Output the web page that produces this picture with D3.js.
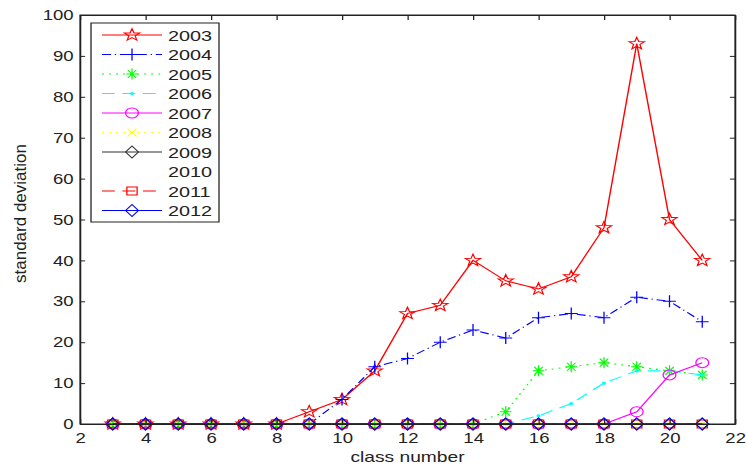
<!DOCTYPE html>
<html lang="en">
<head>
    <meta charset="UTF-8">
    <script type="text/javascript" src="https://cdn.jsdelivr.net/npm/d3@7/dist/d3.min.js"></script>
    <title>standard deviation</title>
    <style>
        body { margin: 0; background: #fff; }
        text { font-family: Arial, "Liberation Sans", sans-serif; fill: #222; }
    </style>
</head>
<body>
</body>
<script>
    // data
    let classes = [3, 4, 5, 6, 7, 8, 9, 10, 11, 12, 13, 14, 15, 16, 17, 18, 19, 20, 21];
    let years = ["2003", "2004", "2005", "2006", "2007", "2008", "2009", "2010", "2011", "2012"];
    let v2003 = [0, 0, 0, 0, 0, 0, 3, 6, 13, 27, 29, 40, 35, 33, 36, 48, 93, 50, 40];
    let v2004 = [0, 0, 0, 0, 0, 0, 0, 6, 14, 16, 20, 23, 21, 26, 27, 26, 31, 30, 25];
    let v2005 = [0, 0, 0, 0, 0, 0, 0, 0, 0, 0, 0, 0, 3, 13, 14, 15, 14, 13, 12];
    let v2006 = [0, 0, 0, 0, 0, 0, 0, 0, 0, 0, 0, 0, 0, 2, 5, 10, 13, 13, 12];
    let v2007 = [0, 0, 0, 0, 0, 0, 0, 0, 0, 0, 0, 0, 0, 0, 0, 0, 3, 12, 15];
    let v2008 = [0, 0, 0, 0, 0, 0, 0, 0, 0, 0, 0, 0, 0, 0, 0, 0, 0, 0, 0];
    let v2009 = [0, 0, 0, 0, 0, 0, 0, 0, 0, 0, 0, 0, 0, 0, 0, 0, 0, 0, 0];
    let v2010 = [];
    let v2011 = [0, 0, 0, 0, 0, 0, 0, 0, 0, 0, 0, 0, 0, 0, 0, 0, 0, 0, 0];
    let v2012 = [0, 0, 0, 0, 0, 0, 0, 0, 0, 0, 0, 0, 0, 0, 0, 0, 0, 0, 0];
    let xTicks = [2, 4, 6, 8, 10, 12, 14, 16, 18, 20, 22];
    let yTicks = [0, 10, 20, 30, 40, 50, 60, 70, 80, 90, 100];

    let values = [v2003, v2004, v2005, v2006, v2007, v2008, v2009, v2010, v2011, v2012];

    // styles per series
    let styles = [
        {color: "#ff0000", dash: null, marker: "star"},
        {color: "#0000ff", dash: "7,3,1,3", marker: "plus"},
        {color: "#00ff00", dash: "1.5,4", marker: "asterisk"},
        {color: "#00ffff", dash: "10,6", marker: "point"},
        {color: "#ff00ff", dash: null, marker: "circle"},
        {color: "#ffff00", dash: "1.5,4", marker: "x"},
        {color: "#333333", dash: null, marker: "diamond"},
        {color: "none", dash: null, marker: null},
        {color: "#ff0000", dash: "10,6", marker: "square"},
        {color: "#0000ff", dash: null, marker: "diamond"}
    ];

    // the picture is stretched horizontally, draw in a narrower space and scale
    let sx = 1.28;
    let width = 746, height = 466;
    let plotLeft = 80 / sx, plotRight = 735 / sx, plotTop = 15, plotBottom = 424;

    let svg = d3.select("body")
        .append("svg")
        .attr("width", width)
        .attr("height", height);

    let g = svg.append("g")
        .attr("transform", `scale(${sx},1)`);

    let xScale = d3.scaleLinear().domain([2, 22]).range([plotLeft, plotRight]);
    let yScale = d3.scaleLinear().domain([0, 100]).range([plotBottom, plotTop]);

    // markers
    function markerPath(type) {
        let p = d3.path();
        if (type === "star") {
            for (let i = 0; i < 10; i++) {
                let r = i % 2 === 0 ? 6.3 : 2.6;
                let a = -Math.PI / 2 + i * Math.PI / 5;
                if (i === 0) p.moveTo(r * Math.cos(a), r * Math.sin(a));
                else p.lineTo(r * Math.cos(a), r * Math.sin(a));
            }
            p.closePath();
        } else if (type === "plus") {
            p.moveTo(-5, 0); p.lineTo(5, 0);
            p.moveTo(0, -6); p.lineTo(0, 6);
        } else if (type === "asterisk") {
            p.moveTo(-4.5, 0); p.lineTo(4.5, 0);
            p.moveTo(0, -5.5); p.lineTo(0, 5.5);
            p.moveTo(-3.3, -4); p.lineTo(3.3, 4);
            p.moveTo(-3.3, 4); p.lineTo(3.3, -4);
        } else if (type === "circle") {
            p.arc(0, 0, 5, 0, 2 * Math.PI);
        } else if (type === "x") {
            p.moveTo(-3.5, -4); p.lineTo(3.5, 4);
            p.moveTo(-3.5, 4); p.lineTo(3.5, -4);
        } else if (type === "diamond") {
            p.moveTo(0, -6); p.lineTo(5, 0); p.lineTo(0, 6); p.lineTo(-5, 0);
            p.closePath();
        } else if (type === "square") {
            p.rect(-4, -4, 8, 8);
        }
        return p.toString();
    }

    function drawMarker(sel, st) {
        if (st.marker === "point") {
            sel.append("circle").attr("r", 1.6).attr("fill", st.color);
        } else {
            sel.append("path")
                .attr("d", markerPath(st.marker))
                .attr("fill", "none")
                .attr("stroke", st.color)
                .attr("stroke-width", 1);
        }
    }

    let line = d3.line()
        .x(d => xScale(d[0]))
        .y(d => yScale(d[1]));

    // series
    values.forEach((vals, k) => {
        let st = styles[k];
        if (!vals.length) return;
        let pts = vals.map((v, i) => [classes[i], v]);
        g.append("path")
            .datum(pts)
            .attr("d", line)
            .attr("fill", "none")
            .attr("stroke", st.color)
            .attr("stroke-width", 1.1)
            .attr("stroke-dasharray", st.dash);
        g.selectAll(".m" + k)
            .data(pts)
            .enter()
            .append("g")
            .attr("class", "m" + k)
            .attr("transform", d => `translate(${xScale(d[0])},${yScale(d[1])})`)
            .each(function () { drawMarker(d3.select(this), st); });
    });

    // axes
    let xAxis = d3.axisBottom(xScale).tickValues(xTicks).tickSizeInner(-5).tickSizeOuter(0).tickPadding(9);
    let xAxisTop = d3.axisTop(xScale).tickValues(xTicks).tickSizeInner(-5).tickSizeOuter(0).tickFormat("");
    let yAxis = d3.axisLeft(yScale).tickValues(yTicks).tickSizeInner(-4).tickSizeOuter(0).tickPadding(5);
    let yAxisRight = d3.axisRight(yScale).tickValues(yTicks).tickSizeInner(-4).tickSizeOuter(0).tickFormat("");

    g.append("g").attr("transform", `translate(0,${plotBottom})`).call(xAxis);
    g.append("g").attr("transform", `translate(0,${plotTop})`).call(xAxisTop);
    g.append("g").attr("transform", `translate(${plotLeft},0)`).call(yAxis);
    g.append("g").attr("transform", `translate(${plotRight},0)`).call(yAxisRight);

    g.selectAll(".domain").attr("stroke", "#222");
    g.selectAll(".tick line").attr("stroke", "#222");
    g.selectAll(".tick text")
        .attr("font-size", 14.5)
        .attr("font-family", "Arial, 'Liberation Sans', sans-serif")
        .attr("fill", "#222");

    // frame
    g.append("rect")
        .attr("x", plotLeft).attr("y", plotTop)
        .attr("width", plotRight - plotLeft).attr("height", plotBottom - plotTop)
        .attr("fill", "none").attr("stroke", "#222");

    // axis labels
    g.append("text")
        .attr("x", (plotLeft + plotRight) / 2)
        .attr("y", 462)
        .attr("text-anchor", "middle")
        .attr("font-size", 15)
        .text("class number");

    svg.append("text")
        .attr("transform", `translate(26,${(plotTop + plotBottom) / 2 - 6}) rotate(-90)`)
        .attr("text-anchor", "middle")
        .attr("font-size", 17)
        .text("standard deviation");

    // legend
    let lx = 91 / sx, ly = 23, lw = (219 - 91) / sx, lh = 199;
    let legend = g.append("g");
    legend.append("rect")
        .attr("x", lx).attr("y", ly)
        .attr("width", lw).attr("height", lh)
        .attr("fill", "#fff").attr("stroke", "#222");

    years.forEach((yr, k) => {
        let st = styles[k];
        let cy = 35 + k * 19.5;
        let row = legend.append("g");
        if (st.marker) {
            row.append("line")
                .attr("x1", 102 / sx).attr("x2", 162 / sx)
                .attr("y1", cy).attr("y2", cy)
                .attr("stroke", st.color)
                .attr("stroke-width", 1.1)
                .attr("stroke-dasharray", st.dash);
            drawMarker(row.append("g").attr("transform", `translate(${132 / sx},${cy})`), st);
        }
        row.append("text")
            .attr("x", 168 / sx)
            .attr("y", cy)
            .attr("dy", "0.36em")
            .attr("font-size", 15.5)
            .text(yr);
    });
</script>
</html>
